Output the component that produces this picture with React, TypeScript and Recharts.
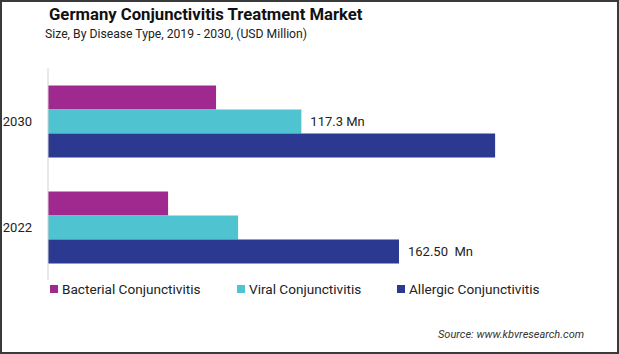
import React from "react";
import { BarChart, Bar, XAxis, YAxis, LabelList, Legend } from "recharts";

const years = ["2030", "2022"];
const seriesNames = ["Bacterial Conjunctivitis", "Viral Conjunctivitis", "Allergic Conjunctivitis"];
const bacterial = [77.8, 55.6];
const viral = [117.3, 88.0];
const allergic = [207.0, 162.5];
const viralLabels = ["117.3 Mn", ""];
const allergicLabels = ["", "162.50  Mn"];
const colors = ["#A0298F", "#4FC3CF", "#2B3990"];

const data = years.map((y, i) => ({
  year: y,
  bacterial: bacterial[i],
  viral: viral[i],
  allergic: allergic[i],
  viralLabel: viralLabels[i],
  allergicLabel: allergicLabels[i],
}));

const FONT = "Roboto, 'Noto Sans', sans-serif";

const renderLabel = (props: any) => {
  const { x, y, width, height, value } = props;
  if (!value) return null;
  return (
    <text
      x={x + width + 9}
      y={y + height / 2}
      dominantBaseline="central"
      fontSize={13}
      fill="#222"
      fontFamily={FONT}
      style={{ whiteSpace: "pre" }}
    >
      {value}
    </text>
  );
};

const legendOffsets = [50, 237, 397];

const renderLegend = () => (
  <div style={{ position: "relative", height: 20, fontFamily: FONT }}>
    {seriesNames.map((n, i) => (
      <div
        key={n}
        style={{
          position: "absolute",
          left: legendOffsets[i],
          top: 0,
          display: "flex",
          alignItems: "center",
          fontSize: 13.6,
          color: "#222",
          whiteSpace: "nowrap",
        }}
      >
        <span style={{ display: "inline-block", width: 8, height: 8, background: colors[i], marginRight: 4 }} />
        {n}
      </div>
    ))}
  </div>
);

export default function App() {
  return (
    <div style={{ position: "absolute", left: 0, top: 0, width: 619, height: 354, background: "#fff", overflow: "hidden" }}>
      <div
        style={{
          position: "absolute",
          left: 49,
          top: 5,
          fontFamily: FONT,
          fontWeight: 700,
          fontSize: 16.7,
          color: "#111",
          whiteSpace: "nowrap",
        }}
      >
        Germany Conjunctivitis Treatment Market
      </div>
      <div
        style={{
          position: "absolute",
          left: 45,
          top: 27,
          fontFamily: FONT,
          fontSize: 12.2,
          color: "#222",
          whiteSpace: "nowrap",
        }}
      >
        Size, By Disease Type, 2019 - 2030, (USD Million)
      </div>
      <BarChart
        width={619}
        height={354}
        data={data}
        layout="vertical"
        margin={{ top: 68, right: 31, bottom: 54, left: 8 }}
        barCategoryGap="16.5%"
        barGap={0}
      >
        <XAxis type="number" domain={[0, 250]} hide />
        <YAxis
          type="category"
          dataKey="year"
          width={40}
          tickLine={false}
          tickSize={0}
          tickMargin={16}
          axisLine={{ stroke: "#D4D4D4" }}
          tick={{ fontSize: 13, fill: "#222", fontFamily: FONT }}
        />
        <Legend
          verticalAlign="bottom"
          height={20}
          content={renderLegend}
          wrapperStyle={{ left: 0, top: 281, width: 619, height: 20 }}
        />
        <Bar dataKey="bacterial" name={seriesNames[0]} fill={colors[0]} isAnimationActive={false} />
        <Bar dataKey="viral" name={seriesNames[1]} fill={colors[1]} isAnimationActive={false}>
          <LabelList dataKey="viralLabel" content={renderLabel} />
        </Bar>
        <Bar dataKey="allergic" name={seriesNames[2]} fill={colors[2]} isAnimationActive={false}>
          <LabelList dataKey="allergicLabel" content={renderLabel} />
        </Bar>
      </BarChart>
      <div
        style={{
          position: "absolute",
          left: 438,
          top: 328,
          fontFamily: FONT,
          fontStyle: "italic",
          fontSize: 11,
          color: "#333",
          whiteSpace: "nowrap",
        }}
      >
        Source: www.kbvresearch.com
      </div>
      <div
        style={{
          position: "absolute",
          left: 0,
          top: 0,
          width: 619,
          height: 354,
          boxSizing: "border-box",
          border: "2px solid #3a3a3a",
          pointerEvents: "none",
        }}
      />
    </div>
  );
}
